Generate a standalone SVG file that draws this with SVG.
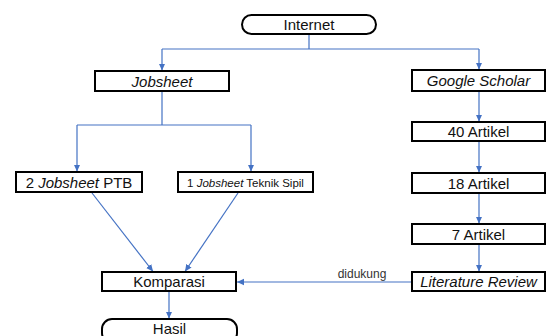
<svg xmlns="http://www.w3.org/2000/svg" width="549" height="336" viewBox="0 0 549 336">
<defs>
<marker id="arr" markerUnits="userSpaceOnUse" markerWidth="8" markerHeight="8" viewBox="0 0 8 8" refX="7" refY="4" orient="auto">
<path d="M0,0.8 L7,4 L0,7.2 Z" fill="#4472C4"/>
</marker>
<style>
.box{fill:#fff;stroke:#000;stroke-width:2}
.t{font-family:"Liberation Sans",Arial,sans-serif;font-size:15px;fill:#111;text-anchor:middle}
.i{font-style:italic}
.s{font-size:11.5px}
.c{fill:none;stroke:#4472C4;stroke-width:1.2}
</style>
</defs>
<rect width="549" height="336" fill="#fff"/>
<g id="connectors">
<path class="c" d="M309,34 V49 M162,49 H479"/>
<path class="c" d="M162,49 V70.5" marker-end="url(#arr)"/>
<path class="c" d="M479,49 V69.5" marker-end="url(#arr)"/>
<path class="c" d="M162,91 V125 M77,125 H251"/>
<path class="c" d="M77,125 V171.5" marker-end="url(#arr)"/>
<path class="c" d="M251,125 V171.5" marker-end="url(#arr)"/>
<path class="c" d="M92,193 L153,271.5" marker-end="url(#arr)"/>
<path class="c" d="M238,193 L185,271.5" marker-end="url(#arr)"/>
<path class="c" d="M169,291 V318.5" marker-end="url(#arr)"/>
<path class="c" d="M479,91 V121.5" marker-end="url(#arr)"/>
<path class="c" d="M479,141 V172.5" marker-end="url(#arr)"/>
<path class="c" d="M479,193 V223.5" marker-end="url(#arr)"/>
<path class="c" d="M479,244 V271.5" marker-end="url(#arr)"/>
<path class="c" d="M412,282 H237" marker-end="url(#arr)"/>
<text x="362" y="278" font-family="'Liberation Sans',Arial,sans-serif" font-size="12" fill="#333" text-anchor="middle">didukung</text>
</g>
<g id="internet">
<rect class="box" x="242" y="15" width="134" height="19" rx="9.5"/>
<text class="t" x="309" y="30">Internet</text>
</g>
<g id="jobsheet">
<rect class="box" x="95" y="71" width="134" height="20"/>
<text class="t i" x="162" y="86.5">Jobsheet</text>
</g>
<g id="google-scholar">
<rect class="box" x="412" y="70" width="133" height="21"/>
<text class="t i" x="478.5" y="86">Google Scholar</text>
</g>
<g id="jobsheet-ptb">
<rect class="box" x="16" y="172" width="126" height="20"/>
<text class="t" x="79" y="187.5">2 <tspan font-style="italic">Jobsheet</tspan> PTB</text>
</g>
<g id="jobsheet-sipil">
<rect class="box" x="178" y="172" width="135" height="20"/>
<text class="t s" x="245.5" y="186.5">1 <tspan font-style="italic">Jobsheet</tspan> Teknik Sipil</text>
</g>
<g id="artikel-40">
<rect class="box" x="412" y="122" width="133" height="19"/>
<text class="t" x="478.5" y="137">40 Artikel</text>
</g>
<g id="artikel-18">
<rect class="box" x="412" y="173" width="133" height="20"/>
<text class="t" x="478.5" y="188.5">18 Artikel</text>
</g>
<g id="artikel-7">
<rect class="box" x="412" y="224" width="133" height="20"/>
<text class="t" x="478.5" y="239.5">7 Artikel</text>
</g>
<g id="literature-review">
<rect class="box" x="412" y="272" width="133" height="19"/>
<text class="t i" x="478.5" y="287">Literature Review</text>
</g>
<g id="komparasi">
<rect class="box" x="102" y="272" width="134" height="19"/>
<text class="t" x="169" y="287">Komparasi</text>
</g>
<g id="hasil">
<rect class="box" x="102" y="319" width="135" height="24" rx="10"/>
<text class="t" x="169.5" y="333.5">Hasil</text>
</g>
</svg>
